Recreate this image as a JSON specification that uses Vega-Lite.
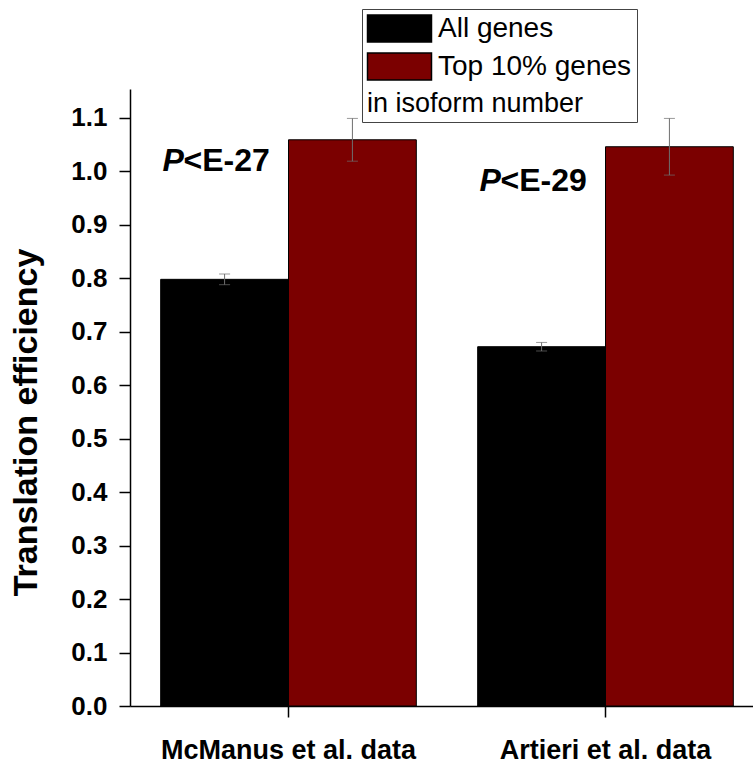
{
  "$schema": "https://vega.github.io/schema/vega-lite/v6.json",
  "width": 623,
  "height": 617,
  "autosize": {"type": "none"},
  "padding": {"left": 130, "top": 89, "right": 0, "bottom": 65},
  "background": "white",
  "config": {
    "font": "Liberation Sans",
    "view": {"stroke": null}
  },
  "datasets": {
    "bars": [
      {"dataset": "McManus et al. data", "group": "All genes", "value": 0.798, "lo": 0.788, "hi": 0.808},
      {"dataset": "McManus et al. data", "group": "Top 10% genes", "value": 1.059, "lo": 1.019, "hi": 1.099},
      {"dataset": "Artieri et al. data", "group": "All genes", "value": 0.672, "lo": 0.664, "hi": 0.680},
      {"dataset": "Artieri et al. data", "group": "Top 10% genes", "value": 1.046, "lo": 0.993, "hi": 1.099}
    ],
    "notes": [
      {"dataset": "McManus et al. data", "group": "All genes", "y": 1.019, "p": "P", "rest": "<E-27"},
      {"dataset": "Artieri et al. data", "group": "All genes", "y": 0.982, "p": "P", "rest": "<E-29"}
    ]
  },
  "encoding": {
    "x": {
      "field": "dataset",
      "type": "nominal",
      "sort": ["McManus et al. data", "Artieri et al. data"],
      "scale": {"paddingInner": 0, "paddingOuter": 0, "range": [0, 634]},
      "axis": {
        "title": null,
        "labelAngle": 0,
        "labelLimit": 500,
        "labelFont": "Liberation Sans",
        "labelFontWeight": "bold",
        "labelFontSize": 27,
        "labelColor": "black",
        "labelPadding": 20,
        "domainColor": "black",
        "domainWidth": 1.5,
        "tickColor": "black",
        "tickWidth": 1.5,
        "tickSize": 11
      }
    },
    "xOffset": {
      "field": "group",
      "type": "nominal",
      "sort": ["All genes", "Top 10% genes"],
      "scale": {"paddingInner": 0, "paddingOuter": 0.24}
    }
  },
  "layer": [
    {
      "data": {"name": "bars"},
      "mark": {"type": "bar", "stroke": "black", "strokeWidth": 1},
      "encoding": {
        "y": {
          "field": "value",
          "type": "quantitative",
          "scale": {"domain": [0, 1.154], "nice": false, "zero": true},
          "axis": {
            "title": "Translation efficiency",
            "titleFont": "Liberation Sans",
            "titleFontSize": 34,
            "titleFontWeight": "bold",
            "titleColor": "black",
            "titlePadding": 27,
            "titleY": 333,
            "values": [0, 0.05, 0.1, 0.15, 0.2, 0.25, 0.3, 0.35, 0.4, 0.45, 0.5, 0.55, 0.6, 0.65, 0.7, 0.75, 0.8, 0.85, 0.9, 0.95, 1.0, 1.05, 1.1, 1.15],
            "format": ".1f",
            "labelExpr": "round(datum.value*100) % 10 == 0 ? datum.label : ''",
            "labelFont": "Liberation Sans",
            "labelFontWeight": "bold",
            "labelFontSize": 26,
            "labelColor": "black",
            "labelPadding": 12,
            "grid": false,
            "domainColor": "black",
            "domainWidth": 1.5,
            "tickColor": "black",
            "tickWidth": 1.5,
            "tickSize": {"condition": {"test": "round(datum.value*100) % 10 != 0", "value": 6}, "value": 11}
          }
        },
        "color": {
          "field": "group",
          "type": "nominal",
          "scale": {"domain": ["All genes", "Top 10% genes"], "range": ["#000000", "#7b0000"]},
          "legend": {
            "orient": "none",
            "legendX": 232,
            "legendY": -80,
            "title": "in isoform number",
            "titleOrient": "bottom",
            "titleAnchor": "start",
            "titleFont": "Liberation Sans",
            "titleFontWeight": "normal",
            "titleFontSize": 27,
            "titleColor": "black",
            "titlePadding": 8,
            "titleLimit": 500,
            "symbolType": "M-2.37,-1H2.37V1H-2.37Z",
            "symbolSize": 729,
            "symbolOffset": 18,
            "symbolStrokeColor": "black",
            "symbolStrokeWidth": 1.5,
            "symbolOpacity": 1,
            "labelFont": "Liberation Sans",
            "labelFontSize": 28,
            "labelColor": "black",
            "labelLimit": 500,
            "labelOffset": 24,
            "rowPadding": 5,
            "padding": 5,
            "strokeColor": "#444444",
            "fillColor": "white"
          }
        }
      }
    },
    {
      "data": {"name": "bars"},
      "mark": {"type": "rule", "color": "#6e6e6e", "strokeWidth": 1},
      "encoding": {
        "y": {"field": "lo", "type": "quantitative"},
        "y2": {"field": "hi"}
      }
    },
    {
      "data": {"name": "bars"},
      "mark": {"type": "tick", "color": "#6e6e6e", "thickness": 1, "size": 11},
      "encoding": {
        "y": {"field": "lo", "type": "quantitative"}
      }
    },
    {
      "data": {"name": "bars"},
      "mark": {"type": "tick", "color": "#6e6e6e", "thickness": 1, "size": 11},
      "encoding": {
        "y": {"field": "hi", "type": "quantitative"}
      }
    },
    {
      "data": {"name": "notes"},
      "mark": {"type": "text", "align": "left", "baseline": "middle", "dx": -62, "font": "Liberation Sans", "fontSize": 32, "fontWeight": "bold", "fontStyle": "italic", "color": "black"},
      "encoding": {
        "y": {"field": "y", "type": "quantitative"},
        "text": {"field": "p"}
      }
    },
    {
      "data": {"name": "notes"},
      "mark": {"type": "text", "align": "left", "baseline": "middle", "dx": -41, "font": "Liberation Sans", "fontSize": 32, "fontWeight": "bold", "color": "black"},
      "encoding": {
        "y": {"field": "y", "type": "quantitative"},
        "text": {"field": "rest"}
      }
    }
  ]
}
